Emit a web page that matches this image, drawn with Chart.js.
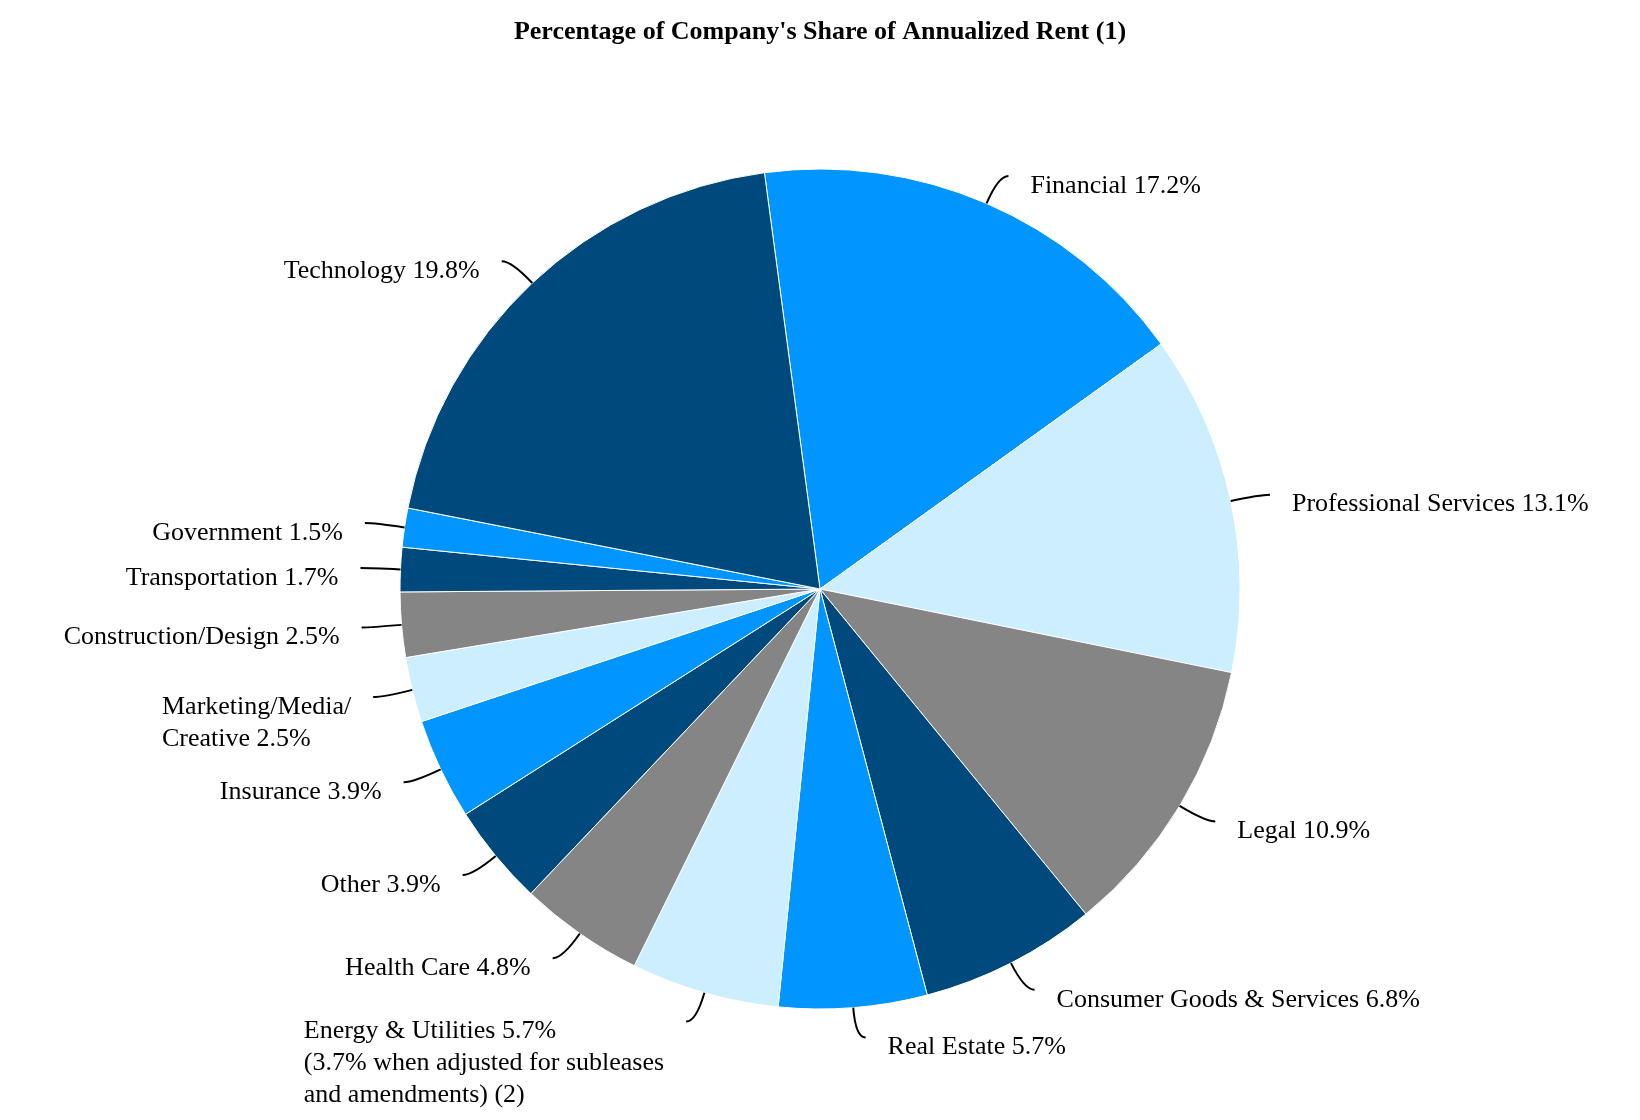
<!DOCTYPE html>
<html>
<head>
<meta charset="utf-8">
<script src="https://cdn.jsdelivr.net/npm/chart.js@4.4.1/dist/chart.umd.min.js"></script>
<style>
  body { margin: 0; background: #fff; }
  #wrap { width: 1640px; height: 1120px; }
</style>
</head>
<body>
<div id="wrap"><canvas id="rentChart" width="1640" height="1120"></canvas></div>
<script>
// categories, clockwise from just left of 12 o'clock
const categories = [
  'Financial',
  'Professional Services',
  'Legal',
  'Consumer Goods & Services',
  'Real Estate',
  'Energy & Utilities',
  'Health Care',
  'Other',
  'Insurance',
  'Marketing/Media/\nCreative',
  'Construction/Design',
  'Transportation',
  'Government',
  'Technology'
];
const shares = [17.2, 13.1, 10.9, 6.8, 5.7, 5.7, 4.8, 3.9, 3.9, 2.5, 2.5, 1.7, 1.5, 19.8];
const notes = {
  'Energy & Utilities': ['(3.7% when adjusted for subleases', 'and amendments) (2)']
};

const NAVY = '#00497c', BLUE = '#0095ff', LIGHT = '#cceeff', GRAY = '#858585';
const sliceColors = [BLUE, LIGHT, GRAY, NAVY, BLUE, LIGHT, GRAY, NAVY, BLUE, LIGHT, GRAY, NAVY, BLUE, NAVY];

const FONT = "'Liberation Serif', 'Times New Roman', serif";

function labelLines(i) {
  const lines = categories[i].split('\n');
  lines[lines.length - 1] += ' ' + shares[i].toFixed(1) + '%';
  return lines.concat(notes[categories[i]] || []);
}

// leader lines + outside labels
const outsideLabels = {
  id: 'outsideLabels',
  afterDatasetsDraw(chart) {
    const ctx = chart.ctx;
    const arcs = chart.getDatasetMeta(0).data;
    ctx.save();
    ctx.font = '26px ' + FONT;
    ctx.fillStyle = '#000';
    ctx.strokeStyle = '#000';
    ctx.lineWidth = 2;
    ctx.textBaseline = 'middle';
    arcs.forEach((arc, i) => {
      const mid = (arc.startAngle + arc.endAngle) / 2;
      const ux = Math.cos(mid), uy = Math.sin(mid);
      const side = ux >= 0 ? 1 : -1;
      const sx = arc.x + ux * arc.outerRadius, sy = arc.y + uy * arc.outerRadius;
      const cx = sx + ux * 30, cy = sy + uy * 30;
      const ex = cx + side * 10, ey = cy;
      ctx.beginPath();
      ctx.moveTo(sx, sy);
      ctx.quadraticCurveTo(cx, cy, ex, ey);
      ctx.stroke();

      const lines = labelLines(i);
      const w = Math.max(...lines.map(l => ctx.measureText(l).width));
      const tx = side > 0 ? ex + 22 : ex - 22 - w;
      ctx.textAlign = 'left';
      lines.forEach((l, k) => ctx.fillText(l, tx, ey + 10 + k * 32));
    });
    ctx.restore();
  }
};

const ctx = document.getElementById('rentChart').getContext('2d');
const rentChart = new Chart(ctx, {
  type: 'pie',
  data: {
    labels: categories,
    datasets: [{
      data: shares,
      backgroundColor: sliceColors,
      borderColor: '#fff',
      borderWidth: 1
    }]
  },
  options: {
    responsive: false,
    animation: false,
    devicePixelRatio: 1,
    rotation: -7.6,
    layout: { padding: { top: 0, bottom: 110.5, left: 0, right: 0 } },
    plugins: {
      legend: { display: false },
      tooltip: { enabled: false },
      title: {
        display: true,
        text: "Percentage of Company's Share of Annualized Rent (1)",
        color: '#000',
        font: { family: FONT, size: 26, weight: 'bold', lineHeight: 1.2 },
        padding: { top: 16.4, bottom: 120.9 }
      }
    }
  },
  plugins: [outsideLabels]
});
</script>
</body>
</html>
